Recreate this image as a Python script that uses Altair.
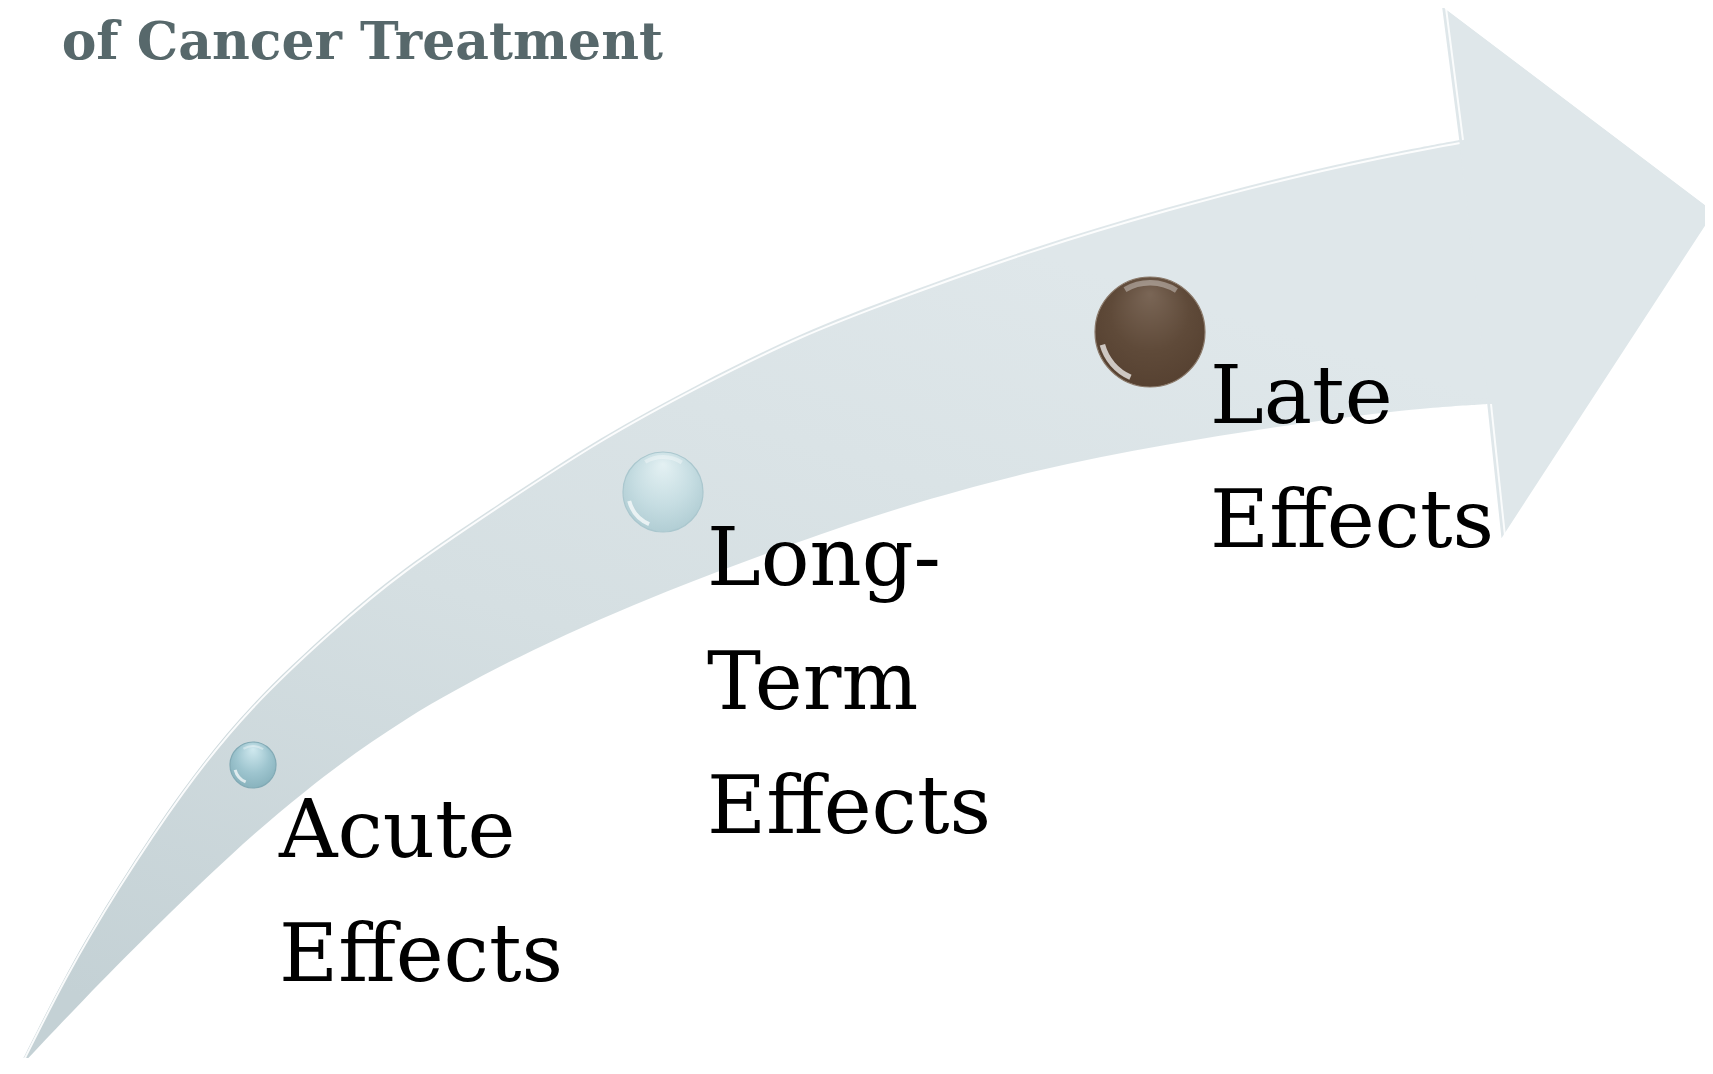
import altair as alt
import pandas as pd

# ---------------- data ----------------
stage_names = ["Acute Effects", "Long-Term Effects", "Late Effects"]
stage_label_text = ["Acute\nEffects", "Long-\nTerm\nEffects", "Late\nEffects"]
marker_x = [253, 663, 1150]
marker_y = [765, 492, 332]
label_x = [279, 707, 1210]
label_y = [857, 585, 423]

title_text = ["of Cancer Treatment"]
title_x = [663]
title_y = [59]

# curved arrow body
upper_x = [18, 67, 117, 183, 250, 333, 400, 500, 600, 700, 800, 900, 1033, 1167, 1300, 1420, 1460]
upper_y = [1069, 971, 887, 787, 704, 627, 570, 503, 437, 383, 333, 295, 247, 207, 172, 147, 140]
lower_x = [1488, 1420, 1300, 1167, 1033, 900, 800, 667, 533, 400, 300, 233, 150, 83, 18]
lower_y = [404, 408, 423, 444, 470, 507, 541, 590, 648, 719, 794, 852, 932, 1000, 1069]

# arrow head corners
head_x = [1460, 1443, 1713, 1502, 1488]
head_y = [140, 8, 212, 536, 404]

# ---------------- styling ----------------
W, H = 1697, 1050
XDOM = [8, 8 + W]
YDOM = [8, 8 + H]
SERIF = "DejaVu Serif"
HEAD_FILL = "#dfe7ea"

xs = alt.Scale(domain=XDOM, nice=False, zero=False)
ys = alt.Scale(domain=YDOM, nice=False, zero=False, reverse=True)


def X(f="x"):
    return alt.X(f"{f}:Q", scale=xs, axis=None)


def Y(f="y"):
    return alt.Y(f"{f}:Q", scale=ys, axis=None)


# outline of the body; the notch corners are repeated so the smooth
# (basis) outline keeps them sharp
bx = upper_x + [upper_x[-1]] * 2 + [lower_x[0]] * 2 + lower_x
by = upper_y + [upper_y[-1]] * 2 + [lower_y[0]] * 2 + lower_y
body_df = pd.DataFrame({"x": bx, "y": by, "i": range(len(bx))})
head_df = pd.DataFrame({"x": head_x, "y": head_y, "i": range(len(head_x))})
hl_df = pd.DataFrame({"x": upper_x, "y": upper_y, "i": range(len(upper_x))})
head_hl_df = pd.DataFrame({"x": head_x[:3], "y": head_y[:3], "i": range(3)})
head_hl2_df = pd.DataFrame({"x": head_x[3:], "y": head_y[3:], "i": range(2)})

body_grad = alt.LinearGradient(
    gradient="linear",
    stops=[alt.GradientStop(color="#c4d1d5", offset=0),
           alt.GradientStop(color="#d5dfe2", offset=0.45),
           alt.GradientStop(color=HEAD_FILL, offset=0.9)],
    x1=0.2, y1=1, x2=0.7, y2=0,
)

body = alt.Chart(body_df).mark_line(
    interpolate="basis", fill=body_grad, strokeOpacity=0, clip=True
).encode(x=X(), y=Y(), order=alt.Order("i:Q"))

body_hl = alt.Chart(hl_df).mark_line(
    interpolate="basis", stroke="#ffffff", strokeWidth=2, strokeOpacity=0.9,
    yOffset=3, clip=True
).encode(x=X(), y=Y(), order=alt.Order("i:Q"))

head = alt.Chart(head_df).mark_line(
    interpolate="linear-closed", fill=HEAD_FILL, stroke=HEAD_FILL,
    strokeWidth=1.5, clip=True
).encode(x=X(), y=Y(), order=alt.Order("i:Q"))

head_hl = alt.Chart(head_hl_df).mark_line(
    stroke="#ffffff", strokeWidth=2, strokeOpacity=0.85, xOffset=3, clip=True
).encode(x=X(), y=Y(), order=alt.Order("i:Q"))

head_hl2 = alt.Chart(head_hl2_df).mark_line(
    stroke="#ffffff", strokeWidth=2, strokeOpacity=0.85, xOffset=3, clip=True
).encode(x=X(), y=Y(), order=alt.Order("i:Q"))

stages_df = pd.DataFrame({
    "stage": stage_names,
    "label": stage_label_text,
    "x": marker_x,
    "y": marker_y,
    "lx": label_x,
    "ly": label_y,
})

marker_styles = [
    dict(r=23, stops=["#d0e9ef", "#9ec5cf", "#82adb8"], stroke="#82aab5"),
    dict(r=40, stops=["#e4f1f3", "#c6dde2", "#abc9d0"], stroke="#aac7ce"),
    dict(r=55, stops=["#7a6656", "#5f4a39", "#543f2f"], stroke="#8b7a6b"),
]

marker_layers = []
for i, st in enumerate(marker_styles):
    sub = stages_df.iloc[[i]]
    grad = alt.RadialGradient(
        gradient="radial",
        stops=[alt.GradientStop(color=st["stops"][0], offset=0),
               alt.GradientStop(color=st["stops"][1], offset=0.55),
               alt.GradientStop(color=st["stops"][2], offset=1)],
        x1=0.5, y1=0.15, r1=0, x2=0.5, y2=0.45, r2=0.65,
    )
    r = st["r"]
    dot = alt.Chart(sub).mark_point(
        shape="circle", filled=True, fill=grad, size=(2 * r) ** 2,
        stroke=st["stroke"], strokeWidth=1.2, opacity=1
    ).encode(x=X(), y=Y())
    shine_low = alt.Chart(sub).mark_arc(
        radius=r - 3, radius2=r - 3 - max(3, r * 0.1), theta=3.55, theta2=4.45,
        fill="#ffffff", opacity=0.7
    ).encode(x=X(), y=Y())
    shine_top = alt.Chart(sub).mark_arc(
        radius=r - 3, radius2=r - 3 - max(2, r * 0.1), theta=5.75, theta2=6.85,
        fill="#ffffff", opacity=0.35
    ).encode(x=X(), y=Y())
    marker_layers += [dot, shine_low, shine_top]

labels = alt.Chart(stages_df).mark_text(
    align="left", baseline="alphabetic", font=SERIF, fontSize=81,
    lineBreak="\n", lineHeight=124, color="#000000"
).encode(x=X("lx"), y=Y("ly"), text="label:N")

title_df = pd.DataFrame({"t": title_text, "x": title_x, "y": title_y})
title = alt.Chart(title_df).mark_text(
    align="right", baseline="alphabetic", font=SERIF, fontWeight="bold",
    fontSize=52, color="#57686b"
).encode(x=X(), y=Y(), text="t:N")

chart = alt.layer(
    body, body_hl, head, head_hl, head_hl2, *marker_layers, labels, title
).properties(
    width=W, height=H, padding={"left": 0, "top": 0, "right": 0, "bottom": 0}
).configure_view(stroke=None)

chart.save("out.html", embed_options={"renderer": "svg", "actions": False})
